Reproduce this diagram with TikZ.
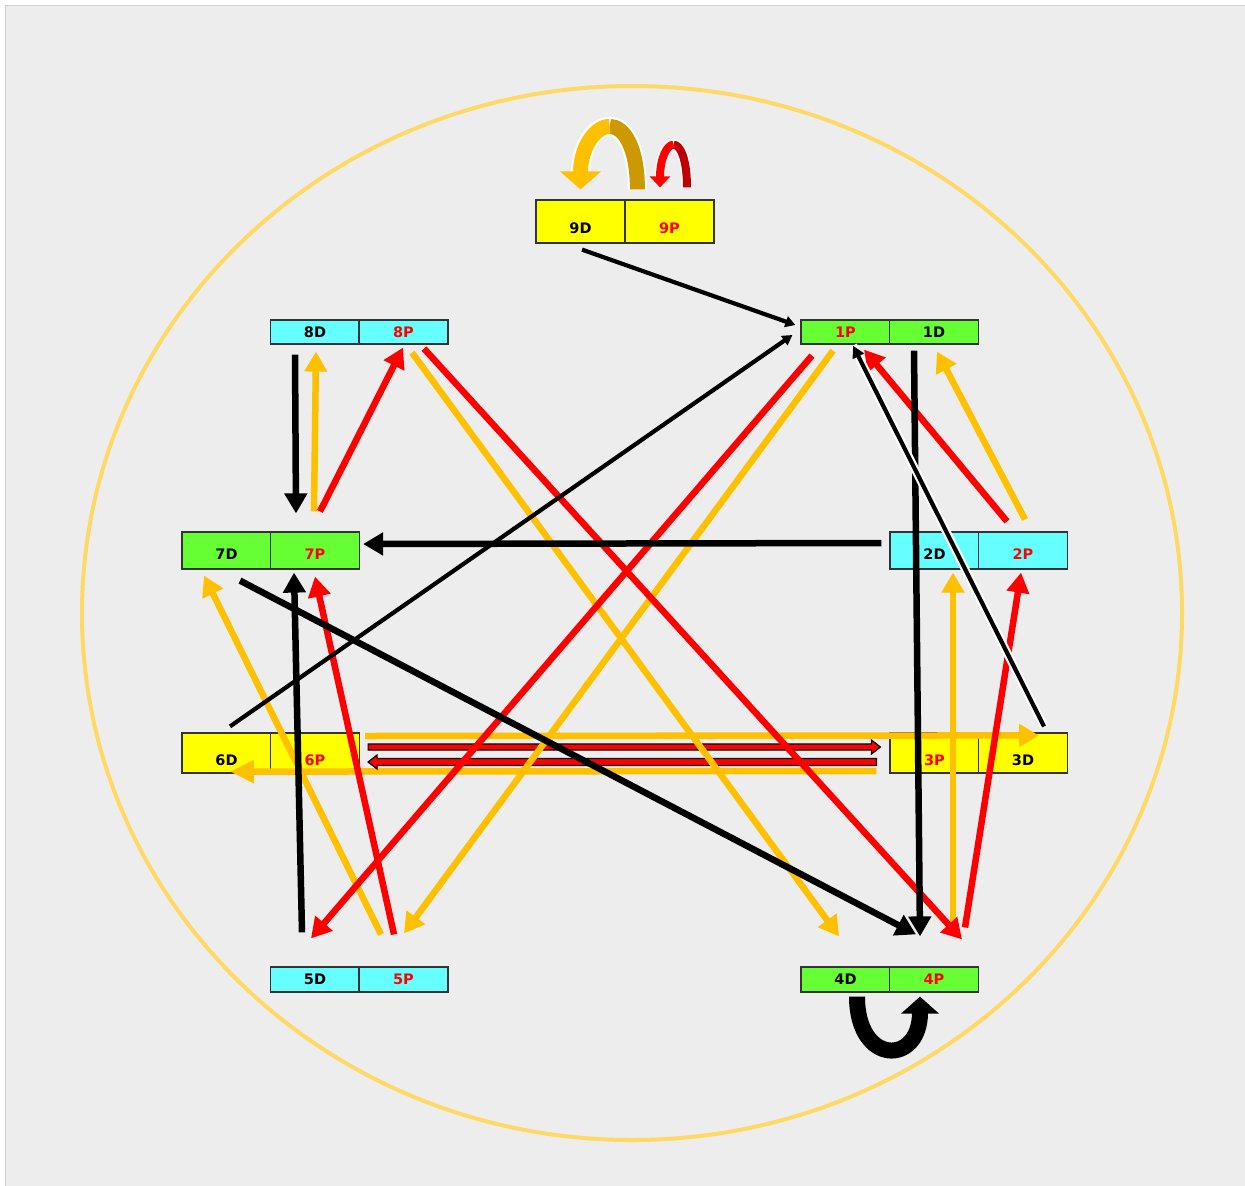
\documentclass[tikz,border=0pt]{standalone}
\usepackage{fontspec}
\setmainfont{DejaVu Sans}
\usetikzlibrary{arrows.meta,calc}
\definecolor{bgc}{HTML}{EDEDED}
\definecolor{framec}{HTML}{D0D0D0}
\definecolor{ringc}{HTML}{FFD966}
\definecolor{yel}{HTML}{FFFF00}
\definecolor{cya}{HTML}{66FFFF}
\definecolor{grn}{HTML}{66FF33}
\definecolor{org}{HTML}{FFC000}
\definecolor{gold}{HTML}{CC9900}
\definecolor{rd}{HTML}{FF0000}
\definecolor{drd}{HTML}{C00000}
\definecolor{cellb}{HTML}{333333}
\begin{document}
\begin{tikzpicture}[x=1pt,y=-1pt,
  cell/.style={draw=cellb, line width=1.2pt, minimum width=89pt, minimum height=#1,
    inner sep=0pt, font=\fontsize{14.5}{14.5}\selectfont\bfseries, text depth=0pt},
  pl/.style={text=rd},
  ar/.style={line width=6.5pt, -{Triangle[length=20pt,width=22pt]}},
  thinar/.style={line width=4.2pt, -{Triangle[length=10pt,width=11pt]}},
  blockar/.style={fill=rd, draw=black, line width=1.2pt, line join=miter}
]
\useasboundingbox (0,0) rectangle (1245,1186);
\fill[white] (0,0) rectangle (1245,1186);
\filldraw[fill=bgc, draw=framec, line width=1pt] (5.5,5.5) rectangle (1245,1186);
\draw[ringc, line width=4pt] (632,613) ellipse [x radius=550pt, y radius=527pt];

% cells
\node[cell=43pt, fill=yel, text height=23pt] (c9D) at (580.5,221.5) {9D};
\node[cell=43pt, fill=yel, text height=23pt, pl] (c9P) at (669.5,221.5) {9P};
\node[cell=24pt, fill=cya, text height=10.5pt] (c8D) at (315,332) {8D};
\node[cell=24pt, fill=cya, text height=10.5pt, pl] (c8P) at (403.5,332) {8P};
\node[cell=24pt, fill=grn, text height=10.5pt, pl] (c1P) at (845.5,332) {1P};
\node[cell=24pt, fill=grn, text height=10.5pt] (c1D) at (934,332) {1D};
\node[cell=37pt, fill=grn, text height=17.5pt] (c7D) at (226.5,550.5) {7D};
\node[cell=37pt, fill=grn, text height=17.5pt, pl] (c7P) at (315,550.5) {7P};
\node[cell=37pt, fill=cya, text height=17.5pt] (c2D) at (934.5,550.5) {2D};
\node[cell=37pt, fill=cya, text height=17.5pt, pl] (c2P) at (1023,550.5) {2P};
\node[cell=40pt, fill=yel, text height=24.5pt] (c6D) at (226.5,753) {6D};
\node[cell=40pt, fill=yel, text height=24.5pt, pl] (c6P) at (315,753) {6P};
\node[cell=40pt, fill=yel, text height=24.5pt, pl] (c3P) at (934.5,753) {3P};
\node[cell=40pt, fill=yel, text height=24.5pt] (c3D) at (1023,753) {3D};
\node[cell=25pt, fill=cya, text height=10.5pt] (c5D) at (315,979.5) {5D};
\node[cell=25pt, fill=cya, text height=10.5pt, pl] (c5P) at (403.5,979.5) {5P};
\node[cell=25pt, fill=grn, text height=10.5pt] (c4D) at (845.5,979.5) {4D};
\node[cell=25pt, fill=grn, text height=10.5pt, pl] (c4P) at (934,979.5) {4P};

% loops above 9D/9P
\coordinate (o9r) at ($(c9P.north west)+(13,-10)$);
\coordinate (o9t) at ($(c9D.north east)+(-16,-73)$);
\coordinate (o9l) at ($(c9D.north)+(0,-10)$);
\draw[white, line width=19pt] (o9r) .. controls +(0,-42) and +(14.5,0) .. (o9t)
  .. controls +(-14.5,0) and +(0,-30) .. ($(o9l)+(0,-14)$);
\draw[gold, line width=15pt] (o9r) .. controls +(0,-42) and +(14.5,0) .. (o9t);
\draw[org, line width=15pt, -{Triangle[length=18pt,width=40pt]}] (o9t) .. controls +(-14.5,0) and +(0,-42) .. (o9l);
\coordinate (r9r) at ($(c9P.north)+(17.5,-12)$);
\coordinate (r9t) at ($(c9P.north)+(4,-54.75)$);
\coordinate (r9l) at ($(c9P.north)+(-9.5,-12)$);
\draw[white, line width=11pt] (r9r) .. controls +(0,-28.5) and +(6.75,0) .. (r9t)
  .. controls +(-6.75,0) and +(0,-20) .. ($(r9l)+(0,-8)$);
\draw[drd, line width=8pt] (r9r) .. controls +(0,-28.5) and +(6.75,0) .. (r9t);
\draw[rd, line width=8pt, -{Triangle[length=11pt,width=20pt]}] (r9t) .. controls +(-6.75,0) and +(0,-28.5) .. (r9l);

% loop under 4D/4P
\draw[black, line width=16pt, -{Triangle[length=17pt,width=37pt]}]
  ($(c4D.south)+(11.5,4)$) .. controls +(0,69) and +(0,69) .. ($(c4P.south)+(-14,4)$);

% orange horizontals
\draw[ar, org] ($(c6P.east)+(5,-17)$) -- ($(c3D.north)+(16,3)$);
\draw[ar, org, -{Triangle[length=24pt,width=22pt]}] ($(c3P.west)+(-13,18)$) -- ($(c6D.south)+(3.5,-2)$);

% red block arrows
\coordinate (ua) at ($(c6P.east)+(8,-6)$);
\coordinate (ub) at ($(c3P.west)+(-9,-6)$);
\draw[blockar] ($(ua)+(0,-3)$) -- ($(ub)+(-9,-3)$) -- ($(ub)+(-9,-7)$) -- (ub)
  -- ($(ub)+(-9,7)$) -- ($(ub)+(-9,3)$) -- ($(ua)+(0,3)$) -- cycle;
\coordinate (la) at ($(c3P.west)+(-13,9)$);
\coordinate (lb) at ($(c6P.east)+(8,9)$);
\draw[blockar] ($(la)+(0,-3.5)$) -- ($(lb)+(9,-3.5)$) -- ($(lb)+(9,-7)$) -- (lb)
  -- ($(lb)+(9,7)$) -- ($(lb)+(9,3.5)$) -- ($(la)+(0,3.5)$) -- cycle;

% orange arrows
\draw[ar, org] ($(c7P.north)+(-1,-20)$) -- ($(c8D.south)+(1,7)$);
\draw[ar, org] ($(c8P.south)+(8.5,8)$) -- ($(c4D.north)+(-6.5,-30)$);
\draw[ar, org] ($(c1P.south)+(-12.5,6)$) -- ($(c5P.north)+(0.5,-33)$);
\draw[ar, org] ($(c2P.north)+(2,-12)$) -- ($(c1D.south)+(3,7)$);
\draw[ar, org] ($(c4P.north)+(19,-32)$) -- ($(c2D.south)+(18.5,3)$);
\draw[ar, org] ($(c5P.north)+(-22.5,-32)$) -- ($(c7D.south)+(-22.5,6)$);

% red arrows
\draw[ar, rd] ($(c7P.north)+(5,-20)$) -- ($(c8P.south)+(-0.5,3)$);
\draw[ar, rd] ($(c8P.south)+(20.5,4)$) -- ($(c4P.north)+(28,-27)$);
\draw[ar, rd] ($(c1P.south)+(-33.5,11)$) -- ($(c5D.north)+(-4,-28)$);
\draw[ar, rd] ($(c2P.north)+(-16,-10)$) -- ($(c1P.south)+(18.5,5)$);
\draw[ar, rd] ($(c4P.north)+(31,-39)$) -- ($(c2P.south)+(-2,3)$);
\draw[ar, rd] ($(c5P.north)+(-9.5,-32)$) -- ($(c7P.south)+(0,7)$);

% black arrows
\draw[ar, black] ($(c2D.west)+(-8,-7.5)$) -- ($(c7P.east)+(3,-6.5)$);
\draw[ar, black] ($(c8D.south)+(-20,10)$) -- ($(c7P.north)+(-19,-18)$);
\draw[ar, black] ($(c5D.north)+(-13,-34)$) -- ($(c7P.south)+(-21,3)$);
\draw[ar, black] ($(c1D.south)+(-20,6)$) -- ($(c4P.north)+(-14,-30)$);
\draw[ar, black] ($(c7D.south)+(13.5,11)$) -- ($(c4P.north)+(-18,-32)$);
\draw[thinar, black] ($(c9D.south)+(1.5,6)$) -- ($(c1P.west)+(-5,-7)$);
\draw[thinar, black] ($(c6D.north)+(3.5,-6)$) -- ($(c1P.west)+(-8,3)$);
\draw[white, line width=8.5pt] ($(c3D.north)+(21,-6)$) -- ($(c1P.south)+(7.5,1)$);
\draw[thinar, black, -{Triangle[length=12pt,width=12pt]}] ($(c3D.north)+(21,-6)$) -- ($(c1P.south)+(7.5,1)$);
\end{tikzpicture}
\end{document}
